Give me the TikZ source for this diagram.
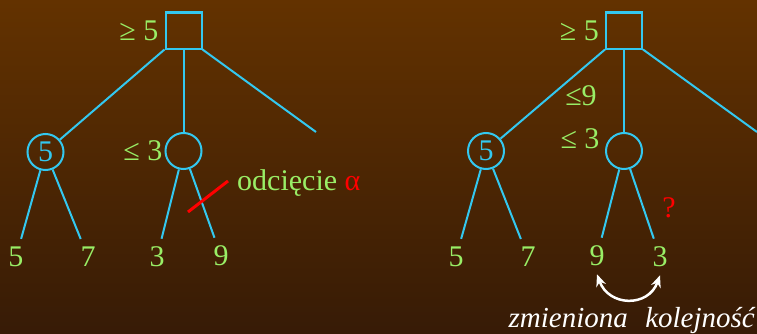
\documentclass[tikz,border=0pt]{standalone}
\usepackage{fontspec}
\setmainfont{Liberation Serif}
\usetikzlibrary{arrows.meta,positioning}
\definecolor{bgtop}{RGB}{99,50,0}
\definecolor{bgbot}{RGB}{55,27,6}
\definecolor{treeblue}{RGB}{51,200,240}
\definecolor{lime}{RGB}{153,238,102}
\definecolor{cutred}{RGB}{255,0,0}

\begin{document}
\begin{tikzpicture}[x=1pt, y=1pt, font=\fontsize{30}{35}\selectfont, node distance=4pt,
  maxbox/.style={draw=treeblue, line width=2pt, minimum size=36pt, inner sep=0pt},
  minbox/.style={draw=treeblue, line width=2pt, circle, minimum size=36pt, inner sep=0pt, text=treeblue},
  val/.style={text=lime, inner sep=8pt},
  lab/.style={text=lime, inner sep=2pt},
  link/.style={draw=treeblue, line width=2pt},
  cut/.style={draw=cutred, line width=3pt},
  swaparrow/.style={draw=white, line width=2.5pt, {Stealth[length=12pt,width=10pt]}-{Stealth[length=12pt,width=10pt]}}]
\useasboundingbox (0,0) rectangle (757,333);
\shade[top color=bgtop, bottom color=bgbot] (0,0) rectangle (757,333);
% left tree
\node[maxbox] (max1) at (183.5,302.5) {};
\node[lab, left=4pt of max1] (max1v) {≥ 5};
\node[minbox] (min1) at (45.5,181) {5};
\node[minbox] (min2) at (183.5,182) {};
\node[lab, left=0pt of min2] (min2v) {≤ 3};
\coordinate (end1) at (316,201);
\node[val] (leaf1) at (16,76) {5};
\node[val] (leaf2) at (88,76) {7};
\node[val] (leaf3) at (157,76) {3};
\node[val] (leaf4) at (221,77) {9};
\draw[link] (max1.south west) -- (min1); \draw[link] (max1.south) -- (min2); \draw[link] (max1.south east) -- (end1);
\draw[link] (min1) -- (leaf1); \draw[link] (min1) -- (leaf2);
\draw[link] (min2) -- (leaf3); \draw[link] (min2) -- (leaf4);
\coordinate (cut1) at (188,121); \coordinate (cut2) at (228,152);
\draw[cut] (cut1) -- (cut2);
\node[lab, anchor=west] (alpha) at (235,150) {odcięcie \textcolor{cutred}{α}};
% right tree
\node[maxbox] (max2) at (624,302.5) {};
\node[lab, left=4pt of max2] (max2v) {≥ 5};
\node[minbox] (min3) at (486,182) {5};
\node[minbox] (min4) at (624,182) {};
\node[lab] (min4v) at (580,194) {≤ 3};
\node[lab] (bound) at (581,237) {≤9};
\coordinate (end2) at (757,201);
\node[val] (leaf5) at (456,76) {5};
\node[val] (leaf6) at (528,76) {7};
\node[val] (leaf7) at (597,77) {9};
\node[val] (leaf8) at (660,76) {3};
\draw[link] (max2.south west) -- (min3); \draw[link] (max2.south) -- (min4); \draw[link] (max2.south east) -- (end2);
\draw[link] (min3) -- (leaf5); \draw[link] (min3) -- (leaf6);
\draw[link] (min4) -- (leaf7); \draw[link] (min4) -- (leaf8);
\node[lab, text=cutred] (ask) at (669,125) {?};
\draw[swaparrow] (leaf7.south) to[out=-70, in=-110, looseness=1.4] (leaf8.south);
\node[anchor=base east, inner sep=0pt, text=white, font=\fontsize{29}{34}\selectfont\itshape] (note) at (755,6) {zmieniona\hspace{0.6em}kolejność};
\end{tikzpicture}
\end{document}
